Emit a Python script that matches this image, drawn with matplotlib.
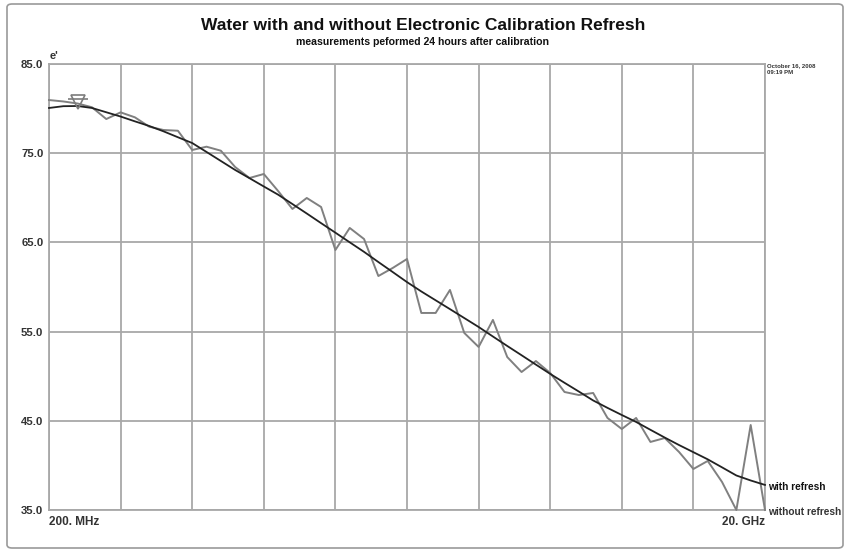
import numpy as np
import matplotlib
matplotlib.use('Agg')
import matplotlib.pyplot as plt
from matplotlib.patches import FancyBboxPatch

plt.rcParams['font.family'] = ['Liberation Sans', 'DejaVu Sans']

# frequency axis: 51 points, 200 MHz .. 20 GHz (GHz)
freq_ghz = np.linspace(0.2, 20.0, 51)

# e' without refresh (gray, noisy)
eps_without = [80.96, 80.80, 80.57, 80.15, 78.83, 79.58, 79.02, 77.97, 77.60, 77.52,
               75.36, 75.73, 75.28, 73.45, 72.22, 72.67, 70.76, 68.75, 69.98, 68.97,
               64.15, 66.62, 65.38, 61.23, 62.13, 63.14, 57.09, 57.09, 59.67, 54.85,
               53.28, 56.31, 52.15, 50.47, 51.70, 50.36, 48.23, 47.89, 48.12, 45.32,
               44.08, 45.32, 42.63, 43.07, 41.50, 39.60, 40.50, 38.14, 35.00, 44.53,
               35.00]

# e' with refresh (black, smooth)
eps_with = [80.07, 80.27, 80.29, 80.07, 79.59, 79.11, 78.57, 78.05, 77.45, 76.79,
            76.14, 75.14, 74.13, 73.12, 72.20, 71.27, 70.35, 69.30, 68.24, 67.16,
            66.09, 65.01, 63.94, 62.80, 61.68, 60.55, 59.50, 58.51, 57.52, 56.52,
            55.52, 54.45, 53.39, 52.35, 51.30, 50.26, 49.26, 48.28, 47.28, 46.45,
            45.65, 44.87, 43.99, 43.12, 42.28, 41.48, 40.68, 39.78, 38.87, 38.31,
            37.81]

y_ticks = [35.0, 45.0, 55.0, 65.0, 75.0, 85.0]
marker_index = 2

W, H = 850, 554
fig = plt.figure(figsize=(W / 100, H / 100), dpi=100)
ax = fig.add_axes([49 / W, 1 - 510 / H, (765 - 49) / W, (510 - 64) / H])

# rounded outer frame
frame = FancyBboxPatch((7 / W, 6 / H), (843 - 7) / W, (550 - 6) / H,
                       boxstyle='round,pad=0,rounding_size=0.006',
                       transform=fig.transFigure, fill=False,
                       edgecolor='#9a9a9a', linewidth=1.2, zorder=0)
fig.patches.append(frame)

grid_c = '#a8a8a8'
ax.set_xlim(freq_ghz[0], freq_ghz[-1])
ax.set_ylim(35, 85)
ax.set_xticks(np.linspace(freq_ghz[0], freq_ghz[-1], 11))
ax.set_xticklabels([])
ax.set_yticks(y_ticks)
ax.set_yticklabels([f'{v:.1f}' for v in y_ticks], fontsize=8.2,
                   fontweight='bold', color='#333333')
ax.tick_params(length=0, pad=4)
ax.grid(True, color=grid_c, linewidth=1.3)
for s in ax.spines.values():
    s.set_color(grid_c)
    s.set_linewidth(1.3)

ax.plot(freq_ghz, eps_without, color='#808080', linewidth=1.4, clip_on=False, zorder=3)
ax.plot(freq_ghz, eps_with, color='#222222', linewidth=1.3, clip_on=False, zorder=4)
ax.plot(freq_ghz[marker_index], eps_without[marker_index] + 0.15, marker='v',
        markersize=10.5, markerfacecolor='none', markeredgecolor='#7c7c7c',
        markeredgewidth=1.2, zorder=5)
ax.plot(freq_ghz[marker_index], eps_without[marker_index] + 0.55, marker='_',
        markersize=15, markeredgecolor='#7c7c7c', markeredgewidth=1.2, zorder=5)

# texts
fig.text(423 / W, 1 - 26 / H, 'Water with and without Electronic Calibration Refresh',
         ha='center', va='center', fontsize=12.5, fontweight='bold', color='#111111')
fig.text(423 / W, 1 - 42 / H, 'measurements peformed 24 hours after calibration',
         ha='center', va='center', fontsize=7.6, fontweight='bold', color='#111111')
fig.text(50 / W, 1 - 56 / H, "e'", ha='left', va='center', fontsize=8,
         fontweight='bold', color='#333333')
fig.text(767 / W, 1 - 66 / H, 'October 16, 2008', ha='left', va='center',
         fontsize=4.3, fontweight='bold', color='#333333')
fig.text(767 / W, 1 - 73 / H, '09:19 PM', ha='left', va='center',
         fontsize=4.3, fontweight='bold', color='#333333')
fig.text(49 / W, 1 - 522 / H, '200. MHz', ha='left', va='center', fontsize=8.5,
         fontweight='bold', color='#333333')
fig.text(765 / W, 1 - 522 / H, '20. GHz', ha='right', va='center', fontsize=8.5,
         fontweight='bold', color='#333333')
fig.text(768 / W, 1 - 487 / H, 'with refresh', ha='left', va='center', fontsize=7.3,
         fontweight='bold', color='#111111')
fig.text(768 / W, 1 - 512 / H, 'without refresh', ha='left', va='center', fontsize=7.3,
         fontweight='bold', color='#333333')

fig.savefig('out.png', dpi=100)
